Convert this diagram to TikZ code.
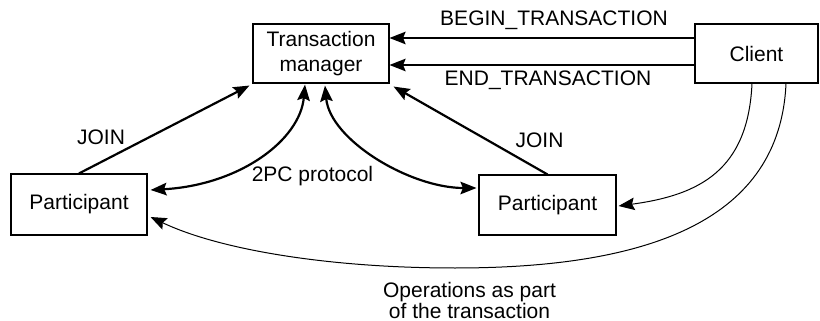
\documentclass[tikz,border=0pt]{standalone}
\usepackage{fontspec}
\setmainfont{Liberation Sans}
\usetikzlibrary{arrows.meta,calc}

\begin{document}
\begin{tikzpicture}[x=1pt,y=-1pt,
  >={Stealth[length=16pt,width=12.5pt,inset=2.5pt]},
  box/.style={draw,line width=1.1pt,inner sep=0pt,align=center},
  lbl/.style={inner sep=0pt},
  heavy/.style={line width=2.2pt,->},
  heavyboth/.style={line width=2.2pt,<->},
  light/.style={line width=1pt,->},
  every node/.style={font=\fontsize{21}{25}\selectfont}]

% canvas
\fill[white] (0,0) rectangle (820,321);
\useasboundingbox (0,0) rectangle (820,321);

% boxes
\node[box,minimum width=136pt,minimum height=59pt] (tm) at (321,53.5) {Transaction\\manager};
\node[box,minimum width=123pt,minimum height=59pt] (cl) at (756.5,53.5) {Client};
\node[box,minimum width=136pt,minimum height=61pt] (pl) at (79,204.5) {Participant};
\node[box,minimum width=137pt,minimum height=60pt] (pr) at (547.5,205) {Participant};

% client requests to the transaction manager
\draw[heavy] ($(cl.west)+(0,-15.5)$) -- ($(tm.east)+(0,-15.5)$);
\draw[heavy] ($(cl.west)+(0,11.5)$) -- ($(tm.east)+(0,11.5)$);
\node[lbl] (beginlbl) at (554,20) {BEGIN\_TRANSACTION};
\node[lbl] (endlbl) at (548,80) {END\_TRANSACTION};

% participants joining
\draw[heavy] (pl.north) -- ($(tm.south west)+(-3,2)$);
\draw[heavy] (pr.north) -- ($(tm.south east)+(4,3)$);
\node[lbl] (joinl) at (101,137.5) {JOIN};
\node[lbl] (joinr) at (539.5,140.5) {JOIN};

% two-phase commit exchanges
\draw[heavyboth] ($(pl.east)+(3,-14.5)$) .. controls (240,185) and (300,140) .. ($(tm.south)+(-16,1)$);
\draw[heavyboth] ($(tm.south)+(4,2)$) .. controls (330,140) and (410,188) .. ($(pr.west)+(-2,-17)$);
\node[lbl] (pcl) at (312.5,176) {2PC protocol};

% operations sent by the client
\draw[light] ($(cl.south)+(-4.5,0)$) .. controls (748,170) and (700,195) .. ($(pr.east)+(2,1)$);
\draw[light] ($(cl.south)+(29.5,0)$) .. controls (780,220) and (650,268) .. (455,268)
  .. controls (330,268) and (220,250) .. ($(pl.east)+(3,12.5)$);
\node[lbl,anchor=base] (ops) at (469.5,297) {Operations as part};
\node[lbl,anchor=base] (opsb) at (469.5,318) {of the transaction};
\end{tikzpicture}
\end{document}
